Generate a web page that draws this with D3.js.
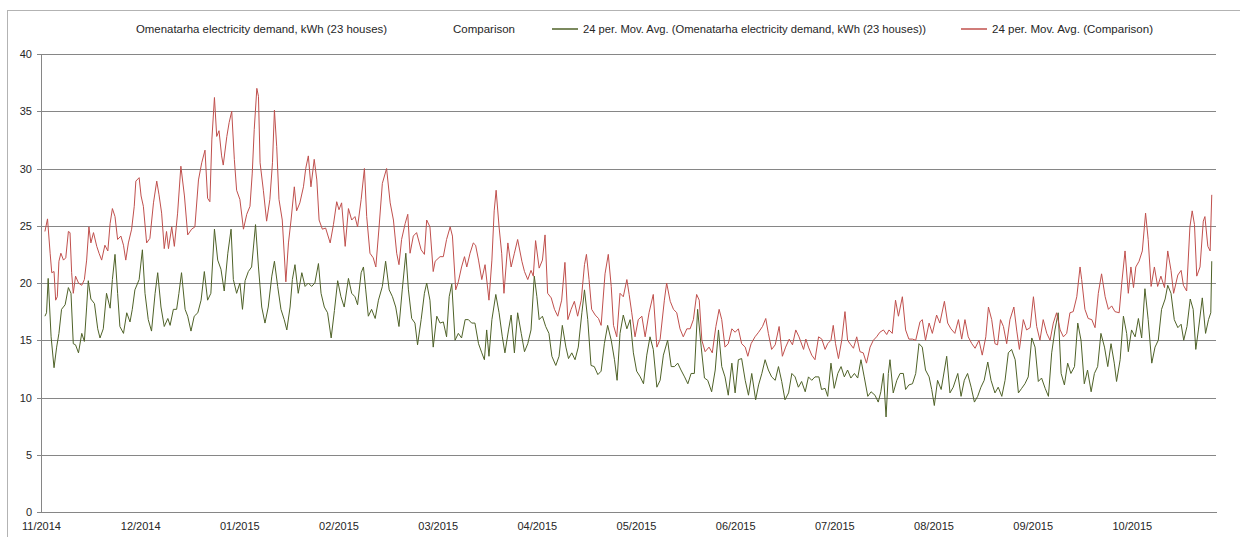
<!DOCTYPE html>
<html>
<head>
<meta charset="utf-8">
<script src="https://cdn.jsdelivr.net/npm/d3@7"></script>
<style>
  body { margin: 0; background: #fff; }
  svg { display: block; font-family: "Liberation Sans", Arial, sans-serif; }
</style>
</head>
<body>
<svg class="chart-svg" width="1240" height="537"></svg>
<script>
// tick labels, one every 1/12 of a year from 1 Nov 2014
const monthLabels = ["11/2014", "12/2014", "01/2015", "02/2015", "03/2015", "04/2015",
  "05/2015", "06/2015", "07/2015", "08/2015", "09/2015", "10/2015"];
const yTicks = [0, 5, 10, 15, 20, 25, 30, 35, 40];

const legendLabels = [
  "Omenatarha electricity demand, kWh (23 houses)",
  "Comparison",
  "24 per. Mov. Avg. (Omenatarha electricity demand, kWh (23 houses))",
  "24 per. Mov. Avg. (Comparison)"
];

// [days since 1 Nov 2014, kWh]
const omenatarhaMA = [
  [1.2,17.1],[1.7,17.4],[2.2,20.4],[3.1,15.3],[4.0,12.6],[4.8,14.4],[5.5,15.6],[6.3,17.7],[7.4,18.1],[8.4,19.6],
  [9.2,19.1],[9.9,14.7],[10.6,14.6],[11.5,13.9],[12.5,15.6],[13.3,14.9],[14.0,17.9],[14.5,20.2],[15.3,18.6],[16.4,18.2],
  [17.4,16.0],[18.1,15.2],[19.1,16.0],[20.1,19.1],[21.2,17.8],[21.9,20.3],[22.7,22.5],[23.5,19.1],[24.2,16.2],[25.3,15.6],
  [26.3,17.4],[27.3,16.6],[28.0,17.7],[28.8,19.4],[30.1,20.3],[31.1,22.9],[31.9,19.1],[32.9,16.8],[33.9,15.8],[35.0,19.1],
  [35.8,20.9],[36.8,17.9],[37.8,16.2],[38.9,16.9],[39.6,16.3],[40.6,17.7],[41.6,17.7],[42.3,19.1],[43.1,20.9],[44.2,17.7],
  [45.0,17.1],[46.0,15.8],[47.0,17.1],[48.1,17.4],[49.1,18.5],[50.1,21.0],[51.1,18.5],[52.1,19.1],[53.2,24.7],[54.2,22.0],
  [55.2,21.2],[56.2,19.3],[57.3,22.6],[58.3,24.7],[59.0,20.3],[60.0,19.1],[61.0,20.0],[61.8,17.7],[62.6,20.2],[63.6,21.0],
  [64.6,21.4],[65.8,25.1],[66.7,21.4],[67.7,17.9],[68.7,16.5],[69.7,17.9],[70.8,20.6],[71.6,21.9],[72.6,19.7],[73.6,17.7],
  [74.6,16.8],[75.4,15.9],[76.4,17.9],[77.1,20.3],[77.9,21.6],[78.9,19.1],[80.0,20.9],[81.0,19.7],[82.0,20.0],[83.0,19.7],
  [84.0,20.0],[85.1,21.7],[85.9,19.1],[86.9,17.9],[87.9,17.4],[89.0,15.2],[90.0,17.6],[91.0,20.2],[92.0,18.8],[93.0,17.9],
  [94.3,20.4],[95.3,19.1],[96.3,18.8],[97.1,18.1],[98.2,20.9],[98.9,21.4],[99.6,19.4],[100.4,17.1],[101.4,17.7],[102.5,16.9],
  [103.5,18.5],[104.7,19.7],[105.7,21.9],[106.8,19.4],[107.8,18.8],[108.8,17.9],[109.8,16.2],[110.8,19.4],[111.9,22.6],[112.7,19.4],
  [113.7,16.9],[114.7,16.5],[115.5,14.6],[116.6,16.8],[117.6,19.1],[118.3,20.0],[119.3,18.5],[120.3,14.4],[121.4,17.1],[122.4,16.5],
  [123.4,16.6],[124.4,15.3],[125.2,18.8],[126.0,19.9],[127.0,15.0],[128.0,15.6],[129.0,15.2],[130.1,16.8],[131.1,16.8],[132.1,16.5],
  [133.1,16.5],[134.2,14.7],[135.2,13.9],[136.0,13.3],[136.7,15.9],[137.4,13.6],[138.3,16.8],[139.5,19.0],[140.5,17.4],[141.5,15.3],
  [142.3,13.9],[143.4,15.9],[144.2,17.2],[145.2,13.9],[146.2,17.4],[147.3,15.6],[148.3,14.0],[149.3,14.7],[150.3,15.9],[151.3,20.6],
  [152.1,18.8],[152.8,16.8],[153.8,17.1],[154.8,16.2],[155.8,15.6],[156.7,13.6],[157.9,12.8],[158.9,13.6],[159.9,16.3],[161.0,14.4],
  [161.8,13.4],[162.8,13.9],[163.8,13.3],[164.8,14.4],[165.9,17.4],[166.7,19.4],[167.7,16.8],[168.7,12.8],[169.7,12.7],[170.8,12.0],
  [171.8,12.3],[172.8,14.7],[173.8,16.3],[174.9,15.0],[175.9,13.3],[176.7,11.5],[177.6,15.6],[178.6,17.2],[179.7,16.0],[180.7,16.8],
  [181.7,13.9],[182.7,12.3],[183.8,11.8],[184.8,11.2],[185.8,13.7],[186.8,15.3],[187.8,14.2],[188.9,10.9],[189.9,11.5],[190.9,13.7],
  [192.2,15.0],[193.3,12.7],[194.3,12.7],[195.3,13.0],[196.3,12.4],[197.4,11.8],[198.4,11.2],[199.4,12.1],[200.4,12.1],[201.4,17.7],
  [202.5,14.4],[203.5,11.7],[204.5,11.5],[205.7,10.5],[206.8,12.4],[207.8,15.9],[208.8,12.7],[209.8,11.8],[210.8,10.2],[211.9,13.0],
  [212.9,10.4],[213.9,13.3],[214.9,13.4],[216.0,11.5],[217.0,10.2],[218.0,12.1],[219.2,9.8],[220.1,11.1],[221.1,12.1],[222.1,13.3],
  [223.1,12.4],[224.1,11.8],[225.2,11.5],[226.2,12.7],[227.2,11.4],[228.2,9.8],[229.3,10.4],[230.3,12.1],[231.3,11.8],[232.3,10.9],
  [233.3,11.4],[234.4,10.5],[235.4,11.8],[236.4,11.5],[237.4,11.8],[238.6,11.8],[239.4,10.7],[240.5,10.8],[241.3,10.1],[242.3,13.0],
  [243.3,10.8],[244.4,12.1],[245.4,12.7],[246.4,11.8],[247.4,12.4],[248.4,11.7],[249.5,12.1],[250.5,11.7],[251.5,13.3],[252.5,11.8],
  [253.6,10.1],[254.6,10.5],[255.8,10.2],[256.8,9.6],[257.6,10.5],[258.4,12.1],[259.2,8.3],[259.9,12.1],[260.4,13.3],[261.4,10.4],
  [262.5,11.5],[263.5,12.1],[264.5,12.1],[265.2,10.7],[266.2,11.1],[267.3,11.2],[268.3,12.1],[269.3,14.7],[270.3,14.4],[271.3,12.4],
  [272.4,11.8],[273.2,10.7],[274.0,9.3],[275.0,11.5],[276.1,10.7],[277.1,12.4],[277.8,13.6],[278.8,10.4],[279.8,10.9],[281.2,12.1],
  [282.2,10.1],[283.2,11.5],[284.2,12.1],[285.3,10.9],[286.3,9.6],[287.3,10.1],[288.3,10.9],[289.3,11.5],[290.4,13.1],[291.4,11.5],
  [292.6,10.4],[293.6,10.9],[294.7,10.1],[295.7,11.5],[296.7,13.9],[297.7,14.2],[298.8,13.3],[299.8,10.4],[300.8,10.8],[301.8,11.2],
  [302.8,11.8],[303.9,15.2],[304.9,14.4],[305.9,11.4],[306.9,11.7],[308.0,10.8],[309.0,10.1],[310.0,13.9],[311.0,15.9],[312.0,17.4],
  [312.9,12.1],[313.9,11.1],[314.9,13.0],[315.9,12.1],[317.0,12.7],[318.0,16.5],[319.0,15.0],[320.0,11.2],[321.0,12.4],[322.1,10.5],
  [323.1,12.1],[324.1,12.7],[325.1,15.6],[326.2,14.4],[327.2,12.7],[328.2,14.7],[329.2,13.0],[329.9,11.4],[331.0,13.3],[332.0,17.1],
  [333.0,15.6],[333.5,14.0],[334.5,15.9],[335.6,15.3],[336.6,16.9],[337.6,15.2],[338.6,19.5],[339.6,16.8],[340.7,13.0],[341.7,14.4],
  [342.7,15.0],[343.7,17.7],[344.8,18.6],[345.6,19.8],[346.6,19.1],[347.6,16.8],[348.7,16.1],[349.7,16.4],[350.5,15.0],[351.5,16.2],
  [352.5,18.6],[353.4,17.7],[354.2,14.2],[355.0,15.9],[356.2,18.7],[357.2,15.6],[358.1,16.8],[358.8,17.4],[359.1,21.9]
];

const comparisonMA = [
  [1.2,24.5],[2.0,25.6],[2.8,22.6],[3.3,20.9],[4.0,21.0],[4.5,18.5],[5.0,18.8],[5.5,21.9],[6.1,22.6],[6.9,22.0],
  [7.6,22.2],[8.4,24.5],[8.9,24.4],[9.4,20.9],[9.9,19.1],[10.6,20.6],[11.5,20.0],[12.5,19.8],[13.3,20.3],[14.0,22.0],
  [14.7,24.9],[15.3,23.5],[16.1,24.4],[17.1,23.2],[17.8,22.6],[18.6,22.0],[19.6,23.3],[20.5,22.8],[21.2,25.2],[21.9,26.5],
  [22.7,25.8],[23.5,23.8],[24.5,24.1],[25.3,23.3],[26.0,22.0],[26.8,23.5],[27.8,24.7],[28.6,26.7],[29.1,28.9],[30.1,29.2],
  [30.7,27.6],[31.4,26.7],[32.4,23.5],[33.4,23.9],[34.5,27.0],[35.5,28.9],[36.2,27.7],[37.0,26.1],[37.8,23.0],[38.5,24.5],
  [39.1,23.0],[40.1,24.9],[40.9,23.2],[41.9,26.1],[42.9,30.2],[44.0,27.6],[45.0,24.2],[46.2,24.7],[47.2,24.9],[48.3,29.0],
  [49.3,30.5],[50.3,31.6],[51.1,27.4],[51.8,27.1],[52.4,32.5],[53.2,36.2],[53.9,32.8],[54.6,33.3],[55.4,31.1],[55.9,30.3],
  [57.0,32.8],[57.7,34.0],[58.5,35.0],[59.3,30.8],[60.0,28.1],[61.0,27.3],[62.1,24.7],[63.1,26.0],[64.1,26.7],[64.8,29.6],
  [65.4,33.4],[66.2,37.0],[66.7,36.3],[67.2,30.5],[68.2,28.1],[69.2,25.4],[70.2,27.3],[71.0,30.5],[71.6,35.1],[72.3,31.9],
  [73.0,27.3],[74.0,25.5],[75.1,20.1],[75.9,23.5],[76.7,25.5],[77.7,28.4],[78.4,26.3],[79.4,27.0],[80.5,28.4],[81.2,30.0],
  [82.0,31.1],[82.8,28.4],[83.8,30.8],[84.6,29.0],[85.3,25.5],[86.3,24.7],[87.3,24.8],[88.7,23.5],[89.7,25.1],[90.7,27.1],
  [91.4,26.4],[92.2,27.0],[93.3,23.2],[94.3,26.5],[95.3,25.5],[96.3,25.8],[97.1,24.9],[98.2,27.3],[99.2,30.0],[99.9,25.8],
  [100.9,22.6],[101.9,22.2],[102.7,21.4],[103.7,24.9],[104.7,28.7],[106.0,30.0],[107.1,27.0],[108.1,25.5],[109.1,22.6],[109.8,21.6],
  [110.6,23.8],[111.7,25.2],[112.5,26.0],[113.2,22.6],[114.2,24.1],[115.2,24.4],[116.6,22.9],[117.6,22.5],[118.3,25.5],[119.3,24.9],
  [120.3,21.0],[120.9,21.9],[122.4,22.3],[123.4,22.3],[124.4,23.8],[125.5,24.9],[126.2,24.1],[127.2,19.4],[128.0,20.1],[129.0,21.4],
  [129.9,22.3],[130.6,21.4],[131.6,22.6],[132.6,23.5],[133.3,23.3],[134.2,22.0],[135.2,20.3],[136.2,21.6],[137.4,18.5],[138.3,22.0],
  [139.0,26.3],[139.6,28.1],[140.5,24.9],[141.3,22.6],[142.0,19.1],[143.2,23.5],[144.2,21.4],[145.2,22.6],[146.2,23.8],[147.5,21.9],
  [148.3,21.0],[149.3,20.3],[150.3,21.1],[151.0,20.6],[151.7,23.7],[152.8,21.3],[153.8,22.0],[154.6,24.2],[155.4,19.1],[156.5,18.7],
  [157.5,17.7],[158.5,17.1],[159.7,18.5],[160.7,21.8],[161.6,16.8],[162.6,17.7],[163.6,18.4],[164.6,17.1],[165.7,18.5],[166.7,21.6],
  [167.3,22.5],[168.1,20.3],[168.9,17.7],[170.0,17.2],[171.0,16.9],[171.8,16.3],[173.0,20.8],[174.0,22.5],[174.9,19.7],[175.6,16.3],
  [176.6,15.3],[177.6,19.1],[178.6,18.8],[179.7,20.3],[180.4,19.0],[181.2,17.4],[182.2,15.3],[183.2,16.8],[184.3,17.1],[185.3,15.3],
  [186.5,17.4],[187.8,19.0],[188.9,14.4],[189.9,15.1],[191.2,18.5],[191.9,20.0],[193.0,18.4],[194.0,17.7],[195.0,17.4],[196.0,16.0],
  [197.0,15.3],[198.1,16.0],[199.1,16.0],[200.1,16.8],[201.1,19.0],[201.9,18.5],[202.7,15.0],[203.7,14.0],[204.9,14.4],[205.9,13.9],
  [207.0,16.2],[208.0,17.7],[208.8,16.8],[209.8,14.4],[210.8,14.7],[211.9,16.0],[212.9,15.7],[213.9,16.0],[214.9,14.7],[216.0,14.4],
  [216.8,13.6],[217.8,14.7],[219.0,15.3],[220.1,15.7],[221.3,16.2],[222.3,16.9],[223.1,15.6],[224.1,14.2],[225.2,14.6],[226.4,16.2],
  [227.4,13.6],[228.4,14.4],[229.5,15.1],[230.5,14.6],[231.5,15.9],[232.5,15.3],[233.9,14.2],[234.6,15.1],[235.4,14.4],[236.4,13.7],
  [237.4,13.3],[238.5,15.3],[239.5,15.1],[240.5,14.2],[241.3,14.7],[242.3,15.0],[243.0,16.3],[243.7,14.7],[244.6,13.4],[245.6,15.0],
  [246.6,17.5],[247.4,15.0],[248.4,14.6],[249.2,14.3],[250.2,15.3],[251.2,14.0],[252.2,13.9],[253.2,13.0],[254.3,14.4],[255.3,15.0],
  [256.3,15.3],[257.3,15.7],[258.4,15.9],[259.4,15.5],[260.1,15.9],[261.1,15.6],[262.1,18.5],[263.0,17.1],[264.2,18.8],[265.2,15.9],
  [266.2,15.1],[267.3,15.1],[268.3,15.0],[269.6,16.6],[270.3,16.8],[271.3,15.0],[272.4,16.5],[273.4,15.6],[274.7,17.2],[275.7,16.5],
  [277.1,18.4],[278.1,16.5],[279.1,16.0],[280.3,15.6],[281.4,16.8],[282.4,15.1],[283.4,16.8],[284.4,15.3],[285.5,14.7],[286.5,14.3],
  [287.7,15.0],[288.7,13.7],[289.8,15.3],[290.6,17.9],[291.6,16.8],[292.6,14.7],[293.4,14.6],[294.3,16.8],[295.2,16.2],[296.2,14.7],
  [297.2,16.8],[298.4,17.9],[299.3,15.8],[300.1,14.2],[301.3,16.8],[302.3,15.9],[303.4,16.1],[304.4,18.8],[305.4,16.2],[306.4,15.0],
  [307.4,16.8],[308.5,15.6],[309.5,15.0],[310.5,16.5],[311.5,17.4],[312.6,15.9],[313.6,15.3],[314.6,15.6],[315.6,17.4],[316.6,17.5],
  [317.7,18.8],[318.7,21.4],[319.2,20.3],[320.2,17.7],[321.2,16.9],[322.3,16.8],[323.3,16.1],[324.3,19.1],[325.3,20.8],[326.4,18.8],
  [327.4,17.7],[328.4,18.0],[329.4,17.5],[330.7,17.4],[331.5,20.0],[332.5,22.8],[333.5,19.1],[334.3,21.4],[335.1,19.6],[335.8,21.4],
  [336.8,21.9],[337.8,22.8],[338.8,26.1],[339.6,23.8],[340.5,19.7],[341.5,21.4],[342.5,19.7],[343.5,20.6],[344.6,19.6],[345.6,22.8],
  [346.6,21.1],[347.4,19.1],[348.7,20.7],[349.7,21.1],[350.4,19.8],[351.4,19.3],[352.4,24.9],[353.1,26.3],[353.8,25.1],[354.5,20.6],
  [355.5,21.4],[356.5,25.4],[357.0,25.8],[357.9,23.2],[358.6,22.8],[359.1,27.7]
];

const width = 1240;
const height = 537;
const plot = { left: 41, right: 1216, top: 54, bottom: 512 };
const labelStep = 365 / 12;

const svg = d3.select(".chart-svg");

// chart area border (right and bottom edges fall outside the picture)
svg.append("rect")
  .attr("x", 7.5).attr("y", 10.5)
  .attr("width", 1300).attr("height", 600)
  .attr("fill", "none")
  .attr("stroke", "#b3b3b3");

const x = d3.scaleLinear().domain([0, 360.4]).range([plot.left, plot.right]);
const y = d3.scaleLinear().domain([0, 40]).range([plot.bottom, plot.top]);

// gridlines
svg.append("g")
  .attr("transform", `translate(${plot.left},0)`)
  .call(d3.axisLeft(y).tickValues(yTicks).tickSize(-(plot.right - plot.left)).tickFormat(""))
  .call(g => g.select(".domain").remove())
  .call(g => g.selectAll("line").attr("stroke", "#868686").attr("shape-rendering", "crispEdges"));

// y axis
svg.append("g")
  .attr("transform", `translate(${plot.left},0)`)
  .call(d3.axisLeft(y).tickValues(yTicks).tickSize(4).tickPadding(5).tickSizeOuter(0))
  .call(g => g.select(".domain").attr("stroke", "#868686").attr("shape-rendering", "crispEdges"))
  .call(g => g.selectAll("line").attr("stroke", "#868686").attr("shape-rendering", "crispEdges"))
  .call(g => g.selectAll("text").attr("font-size", 11).attr("fill", "#262626")
    .attr("font-family", "Liberation Sans, Arial, sans-serif"));

// x axis
svg.append("g")
  .attr("transform", `translate(0,${plot.bottom})`)
  .call(d3.axisBottom(x)
    .tickValues(monthLabels.map((d, i) => i * labelStep))
    .tickFormat((d, i) => monthLabels[i])
    .tickSize(0).tickPadding(10).tickSizeOuter(0))
  .call(g => g.select(".domain").attr("stroke", "#868686").attr("shape-rendering", "crispEdges"))
  .call(g => g.selectAll("text").attr("font-size", 11).attr("fill", "#262626")
    .attr("font-family", "Liberation Sans, Arial, sans-serif"));

const line = d3.line()
  .x(d => x(d[0]))
  .y(d => y(d[1]));

svg.append("path")
  .datum(omenatarhaMA)
  .attr("d", line)
  .attr("fill", "none")
  .attr("stroke", "#4f6228")
  .attr("stroke-width", 1)
  .attr("stroke-linejoin", "round");

svg.append("path")
  .datum(comparisonMA)
  .attr("d", line)
  .attr("fill", "none")
  .attr("stroke", "#c0504d")
  .attr("stroke-width", 1)
  .attr("stroke-linejoin", "round");

// legend: text x, text width, swatch colour
const legendLayout = [
  { tx: 136, tw: 251, color: null },
  { tx: 453, tw: 62, color: null },
  { tx: 583, tw: 343, color: "#4f6228" },
  { tx: 992, tw: 161, color: "#c0504d" }
];

const legend = svg.append("g").attr("class", "legend");
legendLayout.forEach((item, i) => {
  if (item.color) {
    legend.append("line")
      .attr("x1", item.tx - 31).attr("x2", item.tx - 5)
      .attr("y1", 29).attr("y2", 29)
      .attr("stroke", item.color)
      .attr("stroke-width", 1.5);
  }
  legend.append("text")
    .attr("x", item.tx)
    .attr("y", 33)
    .attr("font-size", 11)
    .attr("fill", "#262626")
    .attr("textLength", item.tw)
    .attr("lengthAdjust", "spacingAndGlyphs")
    .text(legendLabels[i]);
});
</script>
</body>
</html>
